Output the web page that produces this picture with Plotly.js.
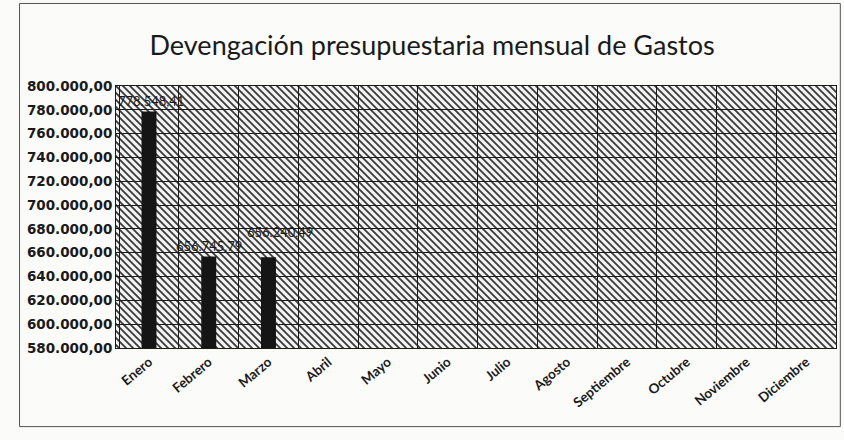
<!DOCTYPE html>
<html>
<head>
<meta charset="utf-8">
<script src="https://cdn.plot.ly/plotly-3.0.1.min.js"></script>
<style>
html,body{margin:0;padding:0;background:#fbfbfa;}
#chart{width:844px;height:440px;}
</style>
</head>
<body>
<div id="chart"></div>
<script>
// ---- Data ----
const months = ["Enero","Febrero","Marzo","Abril","Mayo","Junio","Julio","Agosto","Septiembre","Octubre","Noviembre","Diciembre"];
const gastos = [778548.41, 656745.79, 656240.49, null, null, null, null, null, null, null, null, null];
const yTickVals = [580000,600000,620000,640000,660000,680000,700000,720000,740000,760000,780000,800000];
const chartTitle = "Devengación presupuestaria mensual de Gastos";

// ---- Hatched plot background (styling only) ----
const W = 720, H = 262;
const svg = '<svg xmlns="http://www.w3.org/2000/svg" width="'+W+'" height="'+H+'" viewBox="0 0 '+W+' '+H+'" preserveAspectRatio="none">' +
  '<defs><pattern id="p" width="7" height="7" patternUnits="userSpaceOnUse">' +
  '<rect width="7" height="7" fill="#f2f2f2"/>' +
  '<path d="M-1,-1 L8,8 M-1,6 L1,8 M6,-1 L8,1" stroke="#3a3a3a" stroke-width="1.8"/>' +
  '</pattern></defs><rect width="'+W+'" height="'+H+'" fill="url(#p)"/></svg>';
const hatchSrc = "data:image/svg+xml;charset=utf-8," + encodeURIComponent(svg);

const font = "Lato, 'Open Sans', sans-serif";
const tickFont = "'DejaVu Sans', sans-serif";

const trace = {
  type: "bar",
  x: months,
  y: gastos,
  width: 0.25,
  marker: {color: "#151515", line: {width: 0}},
  hoverinfo: "x+y"
};

// Data labels built from the arrays
const labelShift = [0, 0, 14];
const labelXShift = [2, 0, 12];
const annotations = [];
months.forEach((m, i) => {
  if (gastos[i] == null) return;
  annotations.push({
    x: m, y: gastos[i], xref: "x", yref: "y",
    text: gastos[i].toLocaleString("de-DE", {minimumFractionDigits: 2, maximumFractionDigits: 2}),
    showarrow: false, yanchor: "bottom",
    yshift: 1 + (labelShift[i] || 0), xshift: labelXShift[i] || 0,
    font: {family: font, size: 13, color: "#1a1a1a"}
  });
});

const layout = {
  width: 844, height: 440,
  margin: {l: 116, r: 8, t: 86, b: 92},
  paper_bgcolor: "#fbfbfa",
  plot_bgcolor: "rgba(0,0,0,0)",
  separators: ",.",
  showlegend: false,
  title: {
    text: chartTitle,
    x: 0.512, xanchor: "center",
    y: 0.897, yanchor: "middle",
    font: {family: font, size: 27, color: "#1a1a1a"}
  },
  xaxis: {
    type: "category",
    tickson: "boundaries",
    showgrid: true, gridcolor: "#1a1a1a", gridwidth: 1,
    showline: true, linecolor: "#1a1a1a", linewidth: 1, mirror: true,
    ticks: "", tickangle: -40,
    tickfont: {family: font, size: 13.5, color: "#1a1a1a", weight: "bold"},
    fixedrange: true
  },
  yaxis: {
    range: [580000, 800000],
    tickvals: yTickVals,
    tickformat: ",.2f",
    showgrid: true, gridcolor: "#1a1a1a", gridwidth: 1,
    showline: true, linecolor: "#1a1a1a", linewidth: 1, mirror: true,
    zeroline: false, ticks: "",
    tickfont: {family: tickFont, size: 13.5, color: "#1a1a1a", weight: "bold"},
    fixedrange: true
  },
  images: [{
    source: hatchSrc, xref: "paper", yref: "paper",
    x: 0, y: 1, sizex: 1, sizey: 1, xanchor: "left", yanchor: "top",
    sizing: "stretch", layer: "below"
  }],
  shapes: [{
    type: "rect", xref: "paper", yref: "paper",
    x0: -0.134, x1: 1.006, y0: -0.30, y1: 1.315,
    line: {color: "#555", width: 1}, fillcolor: "rgba(0,0,0,0)", layer: "below"
  }],
  annotations: annotations
};

Plotly.newPlot("chart", [trace], layout, {displayModeBar: false, staticPlot: true});
</script>
</body>
</html>
